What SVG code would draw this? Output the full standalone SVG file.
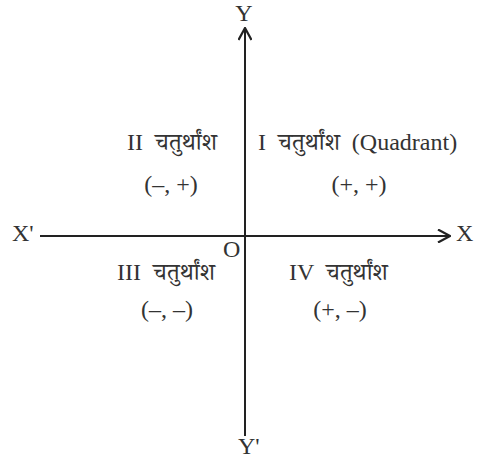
<svg xmlns="http://www.w3.org/2000/svg" width="492" height="460" viewBox="0 0 492 460">
<style>
.t{font-family:"Liberation Serif","Noto Serif Devanagari","Noto Sans Devanagari","Noto Sans",serif;font-size:24px;fill:#333;white-space:pre}
.ax{stroke:#222;stroke-width:2;fill:none}
</style>
<defs>
<marker id="ah" viewBox="0 0 14 14" refX="13" refY="7" markerWidth="14" markerHeight="14" markerUnits="userSpaceOnUse" orient="auto">
<path d="M1,0.5 L13,7 L1,13.5" fill="none" stroke="#222" stroke-width="2.2"/>
</marker>
</defs>
<rect width="492" height="460" fill="#fff"/>
<g id="connectors">
<line class="ax" x1="40" y1="236" x2="450" y2="236" marker-end="url(#ah)"/>
<line class="ax" x1="245" y1="436" x2="245" y2="28" marker-end="url(#ah)"/>
</g>
<g id="labels">
<text class="t" x="244" y="21" text-anchor="middle">Y</text>
<text class="t" x="238" y="454">Y'</text>
<text class="t" x="12" y="241">X'</text>
<text class="t" x="456" y="241">X</text>
<text class="t" x="223" y="257">O</text>
</g>
<g id="q1">
<text class="t" x="258" y="150" xml:space="preserve">I  चतुर्थांश  (Quadrant)</text>
<text class="t" x="359" y="192" text-anchor="middle">(+, +)</text>
</g>
<g id="q2">
<text class="t" x="127" y="150" xml:space="preserve">II  चतुर्थांश</text>
<text class="t" x="171" y="192" text-anchor="middle">(–, +)</text>
</g>
<g id="q3">
<text class="t" x="117" y="280" xml:space="preserve">III  चतुर्थांश</text>
<text class="t" x="167" y="317" text-anchor="middle">(–, –)</text>
</g>
<g id="q4">
<text class="t" x="289" y="280" xml:space="preserve">IV  चतुर्थांश</text>
<text class="t" x="340" y="317" text-anchor="middle">(+, –)</text>
</g>
</svg>
